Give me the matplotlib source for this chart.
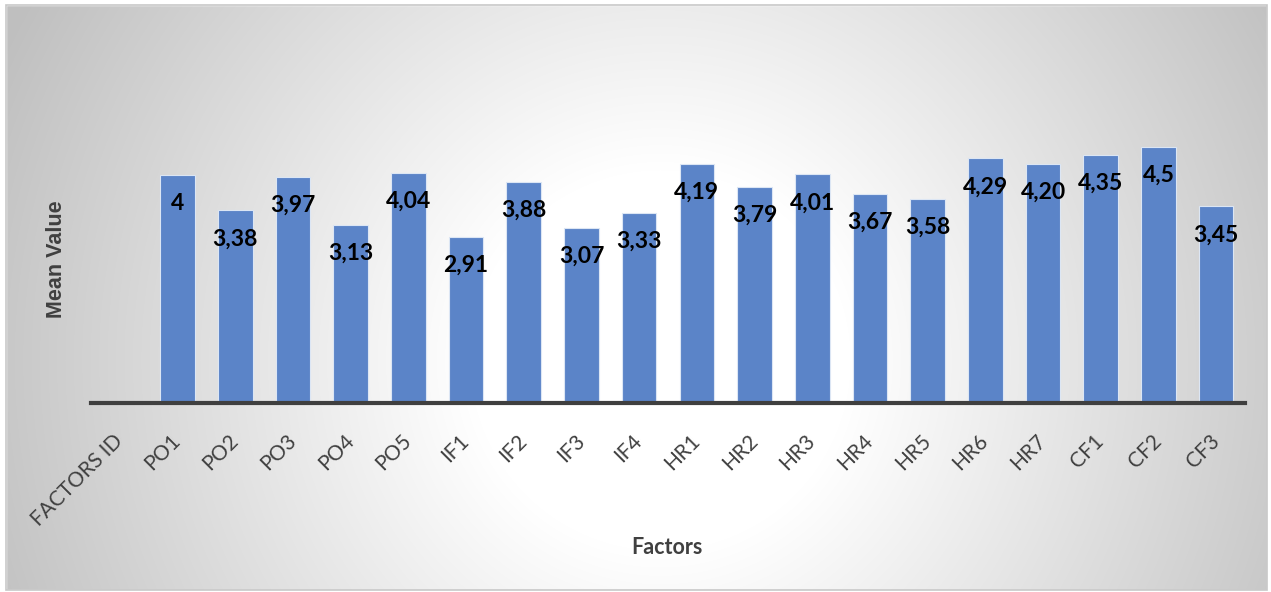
import numpy as np
import matplotlib.pyplot as plt
from matplotlib.patches import Rectangle

categories = ["FACTORS ID", "PO1", "PO2", "PO3", "PO4", "PO5", "IF1", "IF2", "IF3", "IF4",
              "HR1", "HR2", "HR3", "HR4", "HR5", "HR6", "HR7", "CF1", "CF2", "CF3"]
means = [0, 4.00, 3.38, 3.97, 3.13, 4.04, 2.91, 3.88, 3.07, 3.33,
         4.19, 3.79, 4.01, 3.67, 3.58, 4.29, 4.20, 4.35, 4.50, 3.45]
labels = ["", "4", "3,38", "3,97", "3,13", "4,04", "2,91", "3,88", "3,07", "3,33",
          "4,19", "3,79", "4,01", "3,67", "3,58", "4,29", "4,20", "4,35", "4,5", "3,45"]

W, H = 1271, 592
fig = plt.figure(figsize=(W / 100, H / 100), dpi=100)

# radial grey-to-white background of the chart area
bg = fig.add_axes([0, 0, 1, 1], zorder=-2)
yy, xx = np.mgrid[0:H, 0:W]
r = np.hypot(xx - 660, yy - 360)
shade = 255 - 64 * np.clip((r - 190) / 540, 0, 1)
img = np.dstack([shade, shade, shade]) / 255
bg.imshow(img, extent=[0, W, H, 0], aspect="auto", interpolation="bilinear")
bg.add_patch(Rectangle((0, 0), W, 5, color="white"))
bg.add_patch(Rectangle((0, 0), 6, H, color="white"))
bg.add_patch(Rectangle((0, 590), W, 2, color="white"))
bg.add_patch(Rectangle((1267, 0), 4, H, color="white"))
bg.add_patch(Rectangle((6, 5), 1261, 585, fill=False, ec="#c8c8c8", lw=1.2))
bg.set_xlim(0, W)
bg.set_ylim(H, 0)
bg.axis("off")

ax = fig.add_axes([91 / W, 1 - 403 / H, 1154 / W, 285 / H])
ax.patch.set_alpha(0)
x = np.arange(len(categories))
ax.bar(x, means, width=0.6, color="#5b84c8", edgecolor="#dce6f4", linewidth=0.8, zorder=2)

for xi, v, lab in zip(x, means, labels):
    if lab:
        ax.annotate(lab, (xi, v), xytext=(0, -35), textcoords="offset pixels",
                    ha="center", va="baseline", fontsize=16.5, fontweight="bold",
                    family="Lato", color="black", zorder=3)

ax.set_xlim(-0.5, len(categories) - 0.5)
ax.set_ylim(0, 5)
ax.set_yticks([])
for s in ["top", "right", "left"]:
    ax.spines[s].set_visible(False)
ax.spines["bottom"].set_linewidth(3)
ax.spines["bottom"].set_color("#3f3f3f")
ax.spines["bottom"].set_zorder(4)

ax.set_xticks(x)
ax.set_xticklabels(categories, rotation=45, ha="right", va="center",
                   rotation_mode="anchor", fontsize=15, family="Lato", color="#404040")
ax.tick_params(axis="x", length=0, pad=25)

fig.text(667 / W, 1 - 548 / H, "Factors", ha="center", va="center", fontsize=15.5,
         fontweight="bold", family="Lato", color="#404040")
fig.text(57 / W, 1 - 259 / H, "Mean Value", ha="center", va="center", rotation=90,
         fontsize=15.5, fontweight="bold", family="Liberation Sans", color="#404040")

fig.savefig("out.png", dpi=100)
